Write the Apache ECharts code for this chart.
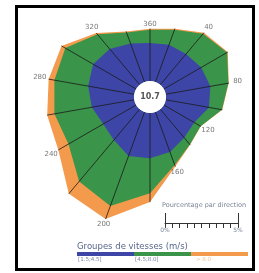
<!DOCTYPE html>
<html>
<head>
<meta charset="utf-8">
<script src="https://cdn.jsdelivr.net/npm/echarts@6/dist/echarts.min.js"></script>
<style>
  html, body { margin: 0; padding: 0; background: #fff; }
  #chart { width: 259px; height: 273px; }
</style>
</head>
<body>
<div id="chart"></div>
<script>
// rose des vents : % par direction et par groupe de vitesses
const directions = [0, 20, 40, 60, 80, 100, 120, 140, 160, 180, 200, 220, 240, 260, 280, 300, 320, 340];
const blue   = [2.6, 2.7, 2.75, 2.95, 3.1, 3.0, 2.4, 2.55, 2.9, 3.1, 3.2, 2.75, 2.6, 2.95, 3.2, 3.4, 3.2, 2.8];
const green  = [0.9, 1.1, 1.8, 2.05, 1.25, 0.9, 0.5, 0.6, 0.95, 2.4, 3.65, 3.7, 2.75, 2.6, 2.35, 2.2, 1.3, 0.8];
const orange = [0.08, 0.08, 0.1, 0.05, 0.03, 0.03, 0.02, 0.03, 0.12, 0.6, 0.95, 1.1, 0.8, 0.5, 0.4, 0.3, 0.12, 0.08];
const calm = 10.7;
const angleLabels = ['360', '40', '80', '120', '160', '200', '240', '280', '320'];
const labelDirs = [0, 40, 80, 120, 160, 200, 240, 280, 320];
const speedGroups = ['[1.5;4.5[', '[4.5;8.0[', '> 8.0'];
const scaleTicks = [0, 5];

const COLORS = ['#3d46a6', '#3a9449', '#f49a4c'];
const CENTER = [150, 97];
const PX_PER_PCT = 14.6;
const HOLE_PCT = 1.1;
const MAX_PCT = 9;
const FONT = 'DejaVu Sans';

const chart = echarts.init(document.getElementById('chart'), null, { renderer: 'canvas' });

// cumuls
const cumBlue = blue.map((v) => v);
const cumGreen = blue.map((v, i) => v + green[i]);
const cumTotal = blue.map((v, i) => v + green[i] + orange[i]);

function ring(cum) {
    const pts = directions.map((d, i) => [cum[i], d]);
    pts.push([cum[0], 360]);
    return pts;
}

function areaSeries(cum, color, z) {
    return {
        type: 'line',
        coordinateSystem: 'polar',
        data: ring(cum),
        symbol: 'none',
        silent: true,
        z: z,
        lineStyle: { width: 0 },
        areaStyle: { color: color, opacity: 1 }
    };
}

const spokes = directions.map((d, i) => ({
    type: 'line',
    coordinateSystem: 'polar',
    data: [[0, d], [cumTotal[i], d]],
    symbol: 'none',
    silent: true,
    z: 5,
    lineStyle: { color: '#1b1b1b', width: 0.8 }
}));

const labelData = labelDirs.map((d, k) => {
    const i = directions.indexOf(d);
    const pad = (4 + 5 * Math.abs(Math.sin(d * Math.PI / 180))) / PX_PER_PCT;
    return { value: [cumTotal[i] + pad, d], name: angleLabels[k] };
});

const option = {
    animation: false,
    polar: {
        center: CENTER,
        radius: (MAX_PCT + HOLE_PCT) * PX_PER_PCT
    },
    angleAxis: {
        type: 'value', min: 0, max: 360, startAngle: 90, clockwise: true, show: false
    },
    radiusAxis: {
        type: 'value', min: -HOLE_PCT, max: MAX_PCT, show: false
    },
    grid: { left: 165, width: 73, top: 213, height: 10 },
    xAxis: [{
        type: 'value', min: 0, max: 5, interval: 0.5, position: 'top',
        axisLine: { show: true, lineStyle: { color: '#333', width: 1 } },
        axisTick: { show: true, inside: true, length: 5, lineStyle: { color: '#333' } },
        axisLabel: { show: false },
        splitLine: { show: false }
    }, {
        type: 'value', min: scaleTicks[0], max: scaleTicks[1], interval: 5, position: 'bottom',
        axisLine: { show: false },
        axisTick: { show: true, inside: true, length: 10, lineStyle: { color: '#333' } },
        axisLabel: { show: true, margin: 4, fontSize: 6, color: '#7a8598', fontFamily: FONT, formatter: '{value}%' },
        splitLine: { show: false }
    }],
    yAxis: { type: 'value', show: false },
    series: [
        areaSeries(cumTotal, COLORS[2], 1),
        areaSeries(cumGreen, COLORS[1], 2),
        areaSeries(cumBlue, COLORS[0], 3),
        ...spokes,
        {
            type: 'scatter',
            coordinateSystem: 'polar',
            symbolSize: 0,
            silent: true,
            z: 6,
            data: labelData,
            label: {
                show: true, position: 'inside', formatter: (p) => p.name,
                fontSize: 7, color: '#555', fontFamily: FONT
            }
        },
        {
            type: 'pie',
            center: CENTER,
            radius: [0, HOLE_PCT * PX_PER_PCT],
            silent: true,
            z: 7,
            data: [{ value: calm, name: 'calme' }],
            itemStyle: { color: '#fff' },
            labelLine: { show: false },
            emphasis: { disabled: true },
            label: {
                show: true, position: 'center', formatter: calm.toFixed(1),
                fontSize: 8, fontWeight: 'bold', color: '#555', fontFamily: FONT
            }
        }
    ],
    graphic: [
        {
            type: 'rect', silent: true, z: 100,
            shape: { x: 16.5, y: 6.5, width: 237, height: 263 },
            style: { fill: null, stroke: '#000', lineWidth: 3 }
        },
        {
            type: 'text', left: 162, top: 202, silent: true,
            style: { text: 'Pourcentage par direction', fontSize: 6.5, fill: '#7a8598', fontFamily: FONT }
        },
        {
            type: 'text', left: 77, top: 242, silent: true,
            style: { text: 'Groupes de vitesses (m/s)', fontSize: 8.5, fill: '#56668a', fontFamily: FONT }
        },
        ...speedGroups.map((g, k) => ({
            type: 'rect', silent: true,
            shape: { x: 77 + k * 57, y: 252, width: 57, height: 4 },
            style: { fill: COLORS[k] }
        })),
        ...speedGroups.map((g, k) => ({
            type: 'text', left: 78 + k * 57 + (k === 2 ? 4 : 0), top: 257, silent: true,
            style: { text: g, fontSize: 5.5, fill: k === 2 ? '#f3c49c' : '#7a88a8', fontFamily: FONT }
        }))
    ]
};

chart.setOption(option);
</script>
</body>
</html>
